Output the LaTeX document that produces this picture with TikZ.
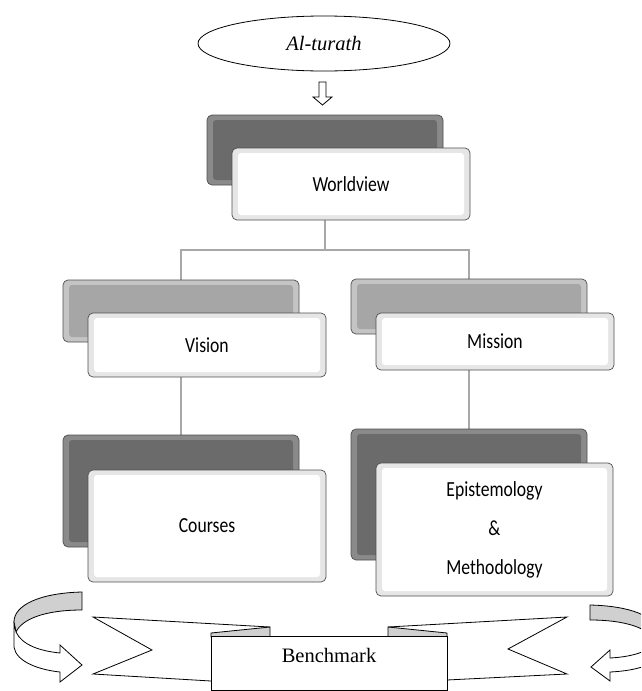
\documentclass[tikz,border=0pt]{standalone}
\usepackage{fontspec}
\newfontfamily\boxfont[FakeStretch=0.82]{Carlito}
\newfontfamily\seriffont{Liberation Serif}
\usetikzlibrary{shapes.geometric,backgrounds}
\definecolor{darkbox}{HTML}{6B6B6B}
\definecolor{darkedge}{HTML}{8A8A8A}
\definecolor{midbox}{HTML}{A6A6A6}
\definecolor{midedge}{HTML}{C4C4C4}
\definecolor{frontedge}{HTML}{E6E6E6}
\definecolor{boxline}{HTML}{4F4F4F}
\definecolor{connline}{HTML}{A8A8A8}
\definecolor{foldgray}{HTML}{D0D0D0}
\tikzset{
  x=1pt, y=-1pt,
  bevel/.style 2 args={draw=boxline, line width=0.7pt, rounded corners=5pt, fill=#1, inner sep=0pt,
    path picture={\fill[#2, rounded corners=3pt]
      ([shift={(6pt,-5pt)}]path picture bounding box.north west) rectangle
      ([shift={(-6pt,5pt)}]path picture bounding box.south east);}},
  darkback/.style={bevel={darkedge}{darkbox}},
  midback/.style={bevel={midedge}{midbox}},
  frontbox/.style={bevel={frontedge}{white}, font=\boxfont\fontsize{21.5}{26}\selectfont, align=center},
  conn/.style={draw=connline, line width=2pt},
  outl/.style={draw=black, line width=0.8pt, line join=miter},
  serif/.style={font=\seriffont\fontsize{20.5}{24}\selectfont}
}
\begin{document}
\begin{tikzpicture}
\useasboundingbox (0,0) rectangle (641,691);
\clip (0,0) rectangle (641,691);

% top ellipse and arrow
\node[ellipse, outl, fill=white, minimum width=252pt, minimum height=55pt, inner sep=0pt, serif] (turath) at (324,43.5) {\itshape Al-turath};
\draw[outl, fill=white] (319,82) -- (326,82) -- (326,97) -- (332,97) -- (322.5,105) -- (313,97) -- (319,97) -- cycle;

% boxes
\node[darkback, minimum width=236pt, minimum height=70pt] (wvback) at (325,150) {};
\node[frontbox, minimum width=238pt, minimum height=72pt] (wvfront) at (351,184) {Worldview};

\node[midback, minimum width=236pt, minimum height=62pt] (visback) at (181,311) {};
\node[frontbox, minimum width=238pt, minimum height=64pt] (visfront) at (207,345) {Vision};

\node[midback, minimum width=236pt, minimum height=55pt] (misback) at (469,306.5) {};
\node[frontbox, minimum width=238pt, minimum height=57pt] (misfront) at (495,341.5) {Mission};

\node[darkback, minimum width=236pt, minimum height=112pt] (cback) at (181,491) {};
\node[frontbox, minimum width=238pt, minimum height=112pt] (cfront) at (207,526) {Courses};

\node[darkback, minimum width=236pt, minimum height=131pt] (eback) at (469,494.5) {};
\node[frontbox, minimum width=237pt, minimum height=133pt] (efront) at (494.5,529.5) {Epistemology\\[13pt]\&\\[13pt]Methodology};

% connectors
\coordinate (split) at (325,250);
\begin{pgfonlayer}{background}
\draw[conn] (wvback |- wvfront.south) -- (split);
\draw[conn] (visback.north) |- (split) -| (misback.north);
\draw[conn] (visback |- visfront.south) -- (cback.north);
\draw[conn] (misback |- misfront.south) -- (eback.north);
\end{pgfonlayer}

% ribbon
\draw[outl, fill=white] (270,627) -- (93,617) -- (152,650) -- (93,674) -- (211,681);
\draw[outl, fill=white] (388,627) -- (567,617) -- (508,649) -- (567,674) -- (447,680);
\draw[outl, fill=foldgray] (211,633) -- (270,627) -- (270,637) -- (211,637) -- cycle;
\draw[outl, fill=foldgray] (447,633) -- (388,627) -- (388,637) -- (447,637) -- cycle;
\node[outl, fill=white, minimum width=236pt, minimum height=54pt, inner sep=0pt] (bench) at (329,663.5) {};
\node[serif] (benchtext) at (329,655) {Benchmark};

% left curved arrow
\draw[outl, fill=foldgray] (82,592) .. controls (40,593) and (14,605) .. (14,622)
  -- (16,632) .. controls (22,619) and (45,610) .. (82,610) -- cycle;
\draw[outl, fill=white] (16,632) .. controls (22,645) and (40,651) .. (60,653)
  -- (60,645) -- (82,665) -- (60,682) -- (60,672)
  .. controls (40,670) and (16,662) .. (14,647) -- (14,624) -- cycle;

% right curved arrow
\draw[outl, fill=foldgray] (590,605) .. controls (630,606) and (656,616) .. (657,632)
  -- (655,642) .. controls (650,628) and (625,620) .. (590,620) -- cycle;
\draw[outl, fill=white] (655,642) .. controls (650,652) and (630,657) .. (610,658)
  -- (610,650) -- (591,667) -- (610,681) -- (610,672)
  .. controls (632,671) and (655,666) .. (658,655) -- (657,636) -- cycle;
\end{tikzpicture}
\end{document}
